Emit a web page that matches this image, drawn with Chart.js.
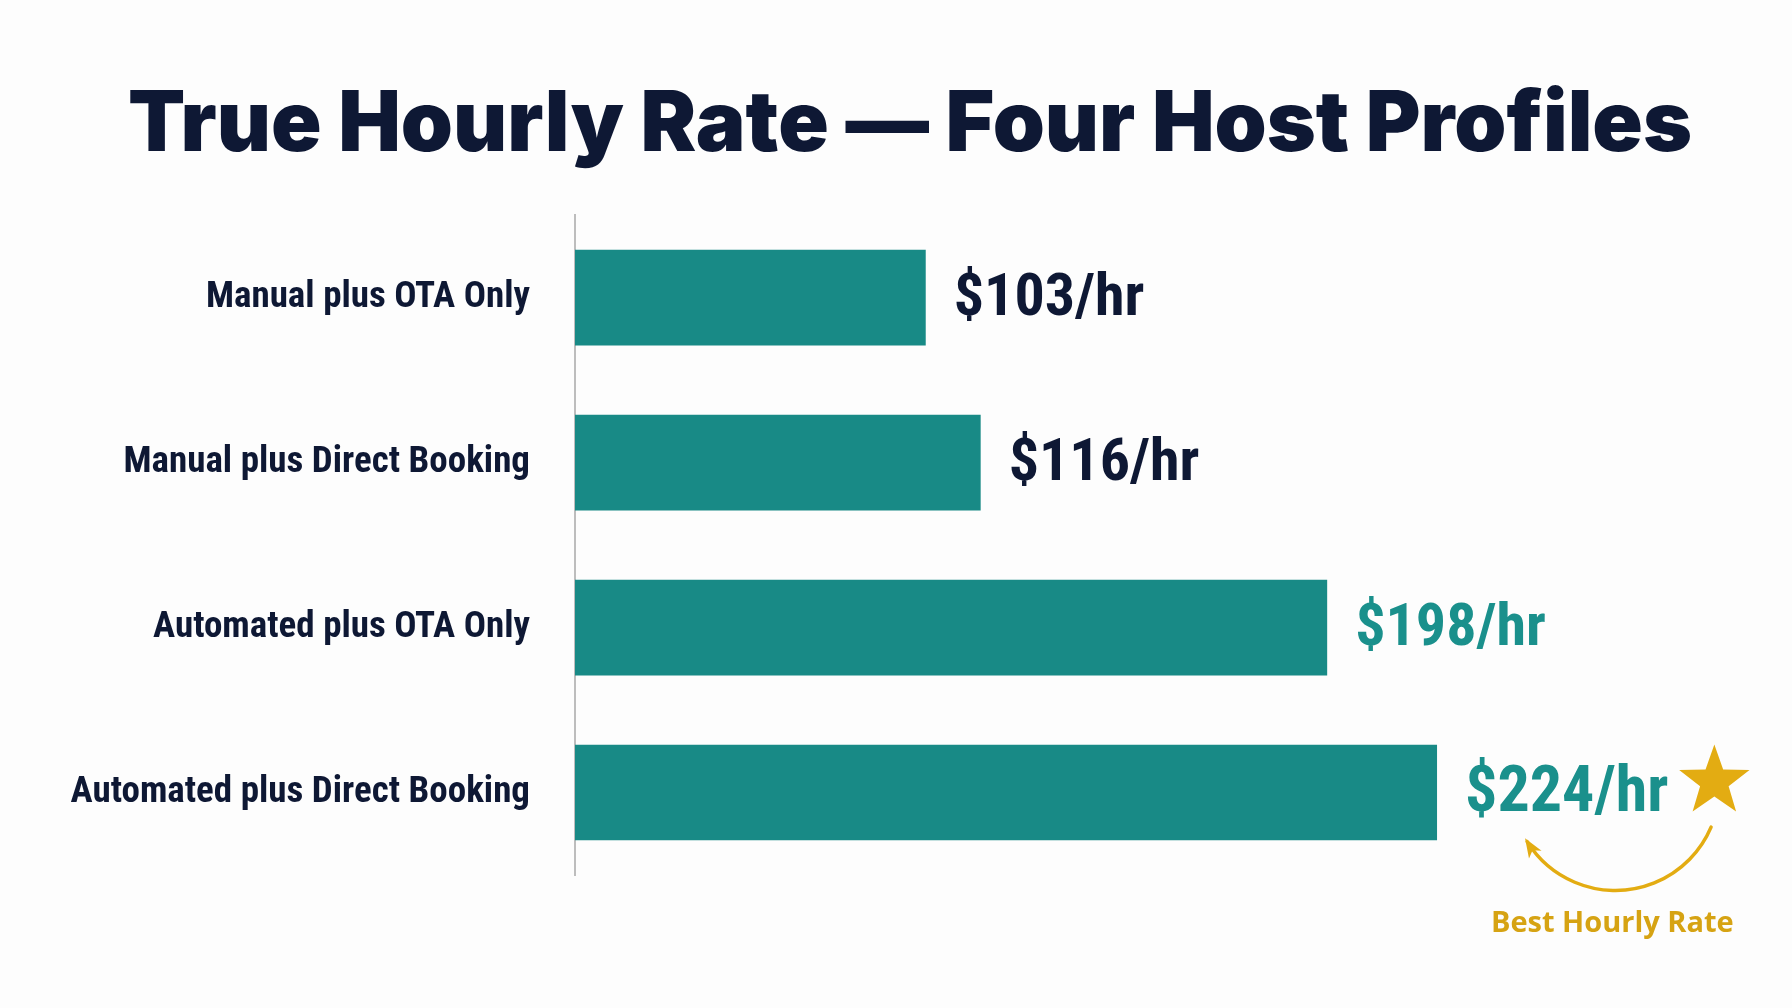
<!DOCTYPE html>
<html>
<head>
<meta charset="utf-8">
<title>True Hourly Rate — Four Host Profiles</title>
<script src="https://cdn.jsdelivr.net/npm/chart.js@4.4.1/dist/chart.umd.min.js"></script>
<style>
  html, body { margin: 0; padding: 0; background: #fdfdfd; }
  #wrap { width: 1792px; height: 1008px; position: relative; }
</style>
</head>
<body>
<div id="wrap"><canvas id="chart"></canvas></div>
<script>
// data
const categories = [
  'Manual plus OTA Only',
  'Manual plus Direct Booking',
  'Automated plus OTA Only',
  'Automated plus Direct Booking'
];
const hourlyRates = [103, 116, 198, 224];
const rateUnit = '/hr';
const chartTitle = 'True Hourly Rate — Four Host Profiles';
const highlightText = 'Best Hourly Rate';

// styles
const navy = '#0e1834';
const teal = '#188a86';
const tealText = '#1a908c';
const gold = '#e3ac12';
const valueColors = [navy, navy, tealText, tealText];
const valueSizes = [60, 60, 60, 64];

function hasFont(name) {
  const c = document.createElement('canvas').getContext('2d');
  const sample = 'Automated plus Direct Booking 0123';
  let differs = false;
  ['monospace', 'serif'].forEach((generic) => {
    c.font = `40px ${generic}`;
    const w1 = c.measureText(sample).width;
    c.font = `40px "${name}", ${generic}`;
    const w2 = c.measureText(sample).width;
    if (w1 !== w2) differs = true;
  });
  return differs;
}

// narrow face for labels; squeeze Liberation Sans if it is missing
const condensed = hasFont('Roboto Condensed');
const narrowFamily = condensed ? '"Roboto Condensed"' : '"Liberation Sans", sans-serif';
const squeeze = condensed ? 1 : 0.9;
const tickFont = condensed
  ? { family: narrowFamily, size: 37, weight: 'bold' }
  : { family: narrowFamily, size: 32, weight: 'bold' };

const valueLabelsPlugin = {
  id: 'valueLabels',
  afterDatasetsDraw(chart) {
    const ctx = chart.ctx;
    const meta = chart.getDatasetMeta(0);
    meta.data.forEach((bar, i) => {
      const text = `$${hourlyRates[i]}${rateUnit}`;
      const x0 = bar.x + 28;
      ctx.save();
      ctx.font = `bold ${valueSizes[i]}px ${narrowFamily}`;
      ctx.fillStyle = valueColors[i];
      ctx.textBaseline = 'middle';
      ctx.textAlign = 'left';
      ctx.translate(x0, bar.y + 2);
      ctx.scale(squeeze, 1);
      ctx.fillText(text, 0, 0);
      bar.$labelEnd = x0 + ctx.measureText(text).width * squeeze;
      ctx.restore();
    });
  }
};

function drawStar(ctx, cx, cy, outer, inner) {
  ctx.beginPath();
  for (let k = 0; k < 10; k++) {
    const r = k % 2 === 0 ? outer : inner;
    const a = -Math.PI / 2 + (k * Math.PI) / 5;
    const px = cx + r * Math.cos(a);
    const py = cy + r * Math.sin(a);
    if (k === 0) ctx.moveTo(px, py); else ctx.lineTo(px, py);
  }
  ctx.closePath();
  ctx.fill();
}

const highlightPlugin = {
  id: 'highlight',
  afterDatasetsDraw(chart) {
    const ctx = chart.ctx;
    const meta = chart.getDatasetMeta(0);
    const best = hourlyRates.indexOf(Math.max(...hourlyRates));
    const bar = meta.data[best];
    if (!bar || bar.$labelEnd === undefined) return;

    const sx = bar.$labelEnd + 46;
    const sy = bar.y - 11;

    ctx.save();
    ctx.fillStyle = gold;
    drawStar(ctx, sx, sy, 37, 15);

    // curved arrow under the star
    const cx = sx - 99, cy = sy + 5, r = 104;
    const a0 = 23 * Math.PI / 180, a1 = 148 * Math.PI / 180;
    ctx.strokeStyle = gold;
    ctx.lineWidth = 3.5;
    ctx.lineCap = 'round';
    ctx.beginPath();
    ctx.arc(cx, cy, r, a0, a1);
    ctx.stroke();

    const ex = cx + r * Math.cos(a1), ey = cy + r * Math.sin(a1);
    const dir = Math.atan2(Math.cos(a1), -Math.sin(a1));
    const head = 17;
    ctx.beginPath();
    ctx.moveTo(ex + 4 * Math.cos(dir), ey + 4 * Math.sin(dir));
    ctx.lineTo(ex - head * Math.cos(dir - 0.45), ey - head * Math.sin(dir - 0.45));
    ctx.lineTo(ex - head * 0.6 * Math.cos(dir), ey - head * 0.6 * Math.sin(dir));
    ctx.lineTo(ex - head * Math.cos(dir + 0.45), ey - head * Math.sin(dir + 0.45));
    ctx.closePath();
    ctx.fill();

    ctx.font = '700 29px "Open Sans", sans-serif';
    ctx.fillStyle = '#d6a313';
    ctx.textAlign = 'center';
    ctx.textBaseline = 'middle';
    ctx.fillText(highlightText, sx - 102, sy + 142);
    ctx.restore();
  }
};

const ctx = document.getElementById('chart').getContext('2d');
new Chart(ctx, {
  type: 'bar',
  data: {
    labels: categories,
    datasets: [{
      data: hourlyRates,
      backgroundColor: teal,
      borderWidth: 0,
      barPercentage: 0.58,
      categoryPercentage: 1
    }]
  },
  options: {
    indexAxis: 'y',
    animation: false,
    responsive: true,
    maintainAspectRatio: false,
    devicePixelRatio: 1,
    layout: { padding: { top: 0, bottom: 133, left: 28, right: 0 } },
    plugins: {
      legend: { display: false },
      tooltip: { enabled: false },
      title: {
        display: true,
        text: chartTitle,
        color: navy,
        font: { family: 'Inter', size: 83.5, weight: '900' },
        padding: { top: 76, bottom: 39 }
      }
    },
    scales: {
      x: {
        display: false,
        min: 20,
        max: 308
      },
      y: {
        afterFit(scale) { scale.width = 547; },
        grid: { display: false, drawTicks: false },
        border: { display: true, color: '#bdbdbd', width: 2 },
        ticks: {
          color: navy,
          padding: 45,
          font: tickFont
        }
      }
    }
  },
  plugins: [valueLabelsPlugin, highlightPlugin]
});
</script>
</body>
</html>
